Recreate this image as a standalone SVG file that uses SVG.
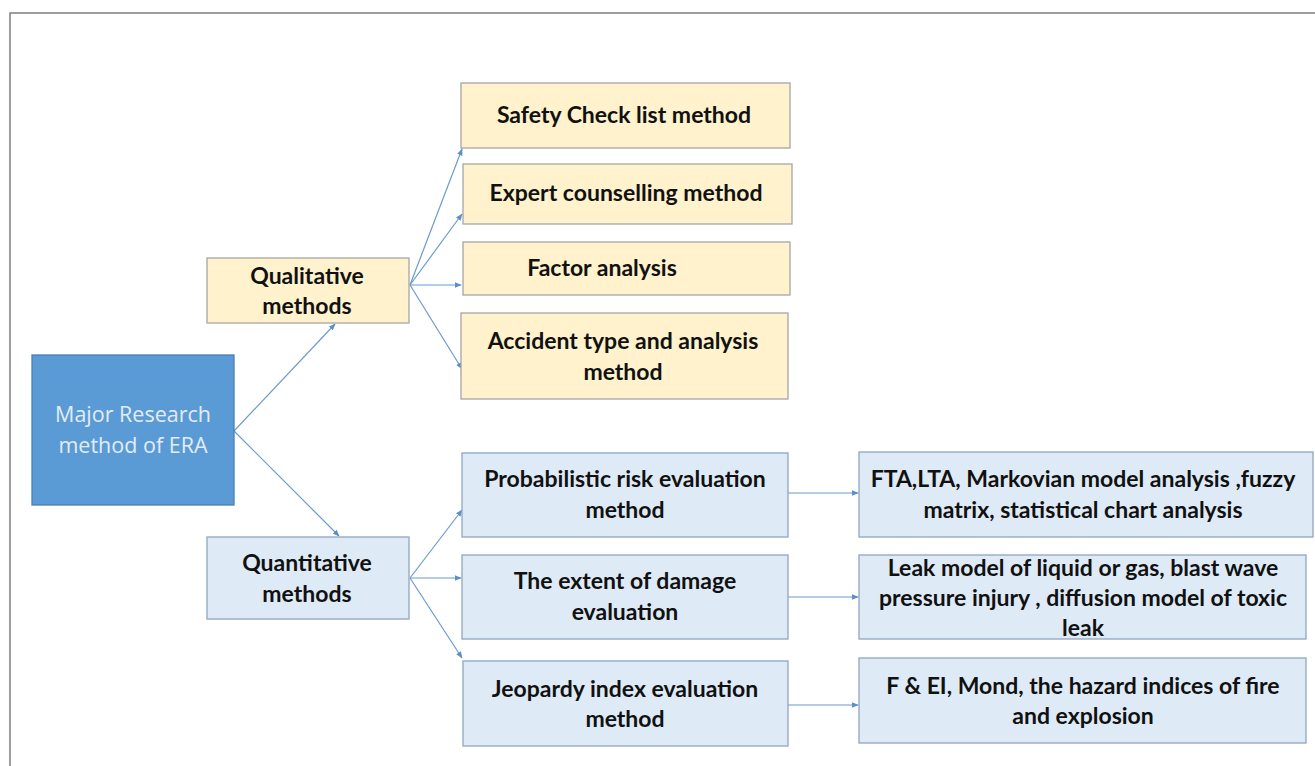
<svg xmlns="http://www.w3.org/2000/svg" width="1315" height="766" viewBox="0 0 1315 766">
<style>
.y{fill:#fff2cc;stroke:#a5a5a5;stroke-width:1.3}
.b{fill:#deebf7;stroke:#8fa5c0;stroke-width:1.3}
.m{fill:#5b9bd5;stroke:#4a7fb5;stroke-width:1.3}
.t{font-family:Lato,"Liberation Sans",sans-serif;font-weight:bold;font-size:23px;fill:#111;text-anchor:middle}
.w{font-family:"Open Sans","Liberation Sans",sans-serif;font-size:21.5px;fill:#e2ecf7;text-anchor:middle}
.c{stroke:#6b9bd0;stroke-width:1.2;fill:none;marker-end:url(#a)}
</style>
<defs>
<marker id="a" viewBox="0 0 10 10" refX="9" refY="5" markerWidth="7" markerHeight="7" orient="auto" markerUnits="userSpaceOnUse">
<path d="M0,1 L10,5 L0,9 z" fill="#5b8fc9"/>
</marker>
</defs>
<rect width="1315" height="766" fill="#fff"/>
<path d="M10,766 V13 H1315" fill="none" stroke="#7f7f7f" stroke-width="1.5"/>
<g id="connectors">
<line class="c" x1="234" y1="431" x2="335" y2="324"/>
<line class="c" x1="234" y1="431" x2="339" y2="536"/>
<line class="c" x1="410" y1="285" x2="462" y2="149"/>
<line class="c" x1="410" y1="285" x2="462" y2="214"/>
<line class="c" x1="410" y1="285" x2="461" y2="285"/>
<line class="c" x1="410" y1="285" x2="462" y2="369"/>
<line class="c" x1="410" y1="578" x2="462" y2="510"/>
<line class="c" x1="410" y1="578" x2="461" y2="578"/>
<line class="c" x1="410" y1="578" x2="462" y2="658"/>
<line class="c" x1="788" y1="493" x2="858" y2="493"/>
<line class="c" x1="788" y1="597" x2="858" y2="597"/>
<line class="c" x1="788" y1="705" x2="858" y2="705"/>
</g>
<g id="main"><rect class="m" x="32" y="355" width="202" height="150"/><text class="w" x="133" y="422">Major Research</text><text class="w" x="133" y="453">method of ERA</text></g>
<g id="qualitative"><rect class="y" x="207" y="258" width="202" height="65"/><text class="t" x="307" y="284">Qualitative</text><text class="t" x="307" y="314">methods</text></g>
<g id="safety"><rect class="y" x="461" y="83" width="329" height="65"/><text class="t" x="624" y="123">Safety Check list method</text></g>
<g id="expert"><rect class="y" x="463" y="164" width="329" height="60"/><text class="t" x="626" y="201">Expert counselling method</text></g>
<g id="factor"><rect class="y" x="463" y="242" width="327" height="53"/><text class="t" x="602" y="276">Factor analysis</text></g>
<g id="accident"><rect class="y" x="461" y="313" width="327" height="86"/><text class="t" x="623" y="349">Accident type and analysis</text><text class="t" x="623" y="380">method</text></g>
<g id="quantitative"><rect class="b" x="207" y="537" width="202" height="82"/><text class="t" x="307" y="571">Quantitative</text><text class="t" x="307" y="602">methods</text></g>
<g id="probabilistic"><rect class="b" x="462" y="453" width="326" height="84"/><text class="t" x="625" y="487">Probabilistic risk evaluation</text><text class="t" x="625" y="518">method</text></g>
<g id="extent"><rect class="b" x="462" y="555" width="326" height="84"/><text class="t" x="625" y="589">The extent of damage</text><text class="t" x="625" y="620">evaluation</text></g>
<g id="jeopardy"><rect class="b" x="463" y="661" width="325" height="85"/><text class="t" x="625" y="697">Jeopardy index evaluation</text><text class="t" x="625" y="727">method</text></g>
<g id="fta"><rect class="b" x="859" y="452" width="454" height="85"/><text class="t" x="1083" y="487">FTA,LTA, Markovian model analysis ,fuzzy</text><text class="t" x="1083" y="518">matrix, statistical chart analysis</text></g>
<g id="leak"><rect class="b" x="859" y="555" width="447" height="84"/><text class="t" x="1083" y="576">Leak model of liquid or gas, blast wave</text><text class="t" x="1083" y="606">pressure injury , diffusion model of toxic</text><text class="t" x="1083" y="636">leak</text></g>
<g id="fei"><rect class="b" x="859" y="658" width="447" height="85"/><text class="t" x="1083" y="694">F &amp; EI, Mond, the hazard indices of fire</text><text class="t" x="1083" y="724">and explosion</text></g>
</svg>
